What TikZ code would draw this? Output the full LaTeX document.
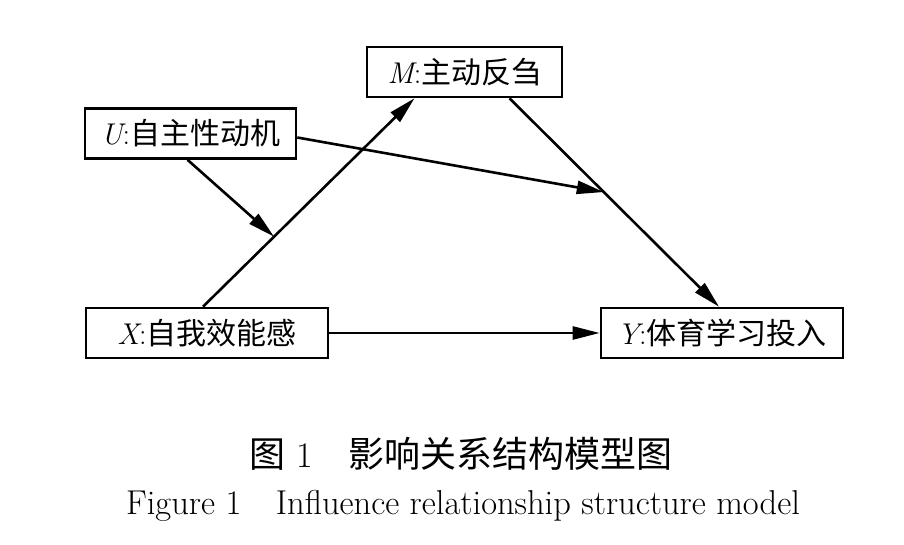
\documentclass[tikz,border=0pt]{standalone}
\usepackage{fontspec}
\newfontfamily\cjk{Noto Sans CJK SC}
\usetikzlibrary{arrows.meta,positioning}

\begin{document}
\begin{tikzpicture}[
  x=1pt, y=-1pt,
  >={Triangle[length=27pt,width=13pt]},
  var/.style={draw, line width=2.6pt, minimum height=50pt, inner sep=0pt,
    font=\fontsize{30}{33}\selectfont},
  link/.style={->, line width=2.6pt},
  capcn/.style={font=\fontsize{36}{40}\selectfont},
  capen/.style={font=\fontsize{34.5}{38}\selectfont},
]
\useasboundingbox (0,0) rectangle (904,545);

% ---------- variables ----------
\node[var, minimum width=211pt] (U) at (190.5,133.5) {{\itshape U}:\cjk 自主性动机};
\node[var, minimum width=195pt] (M) at (464.5,72) {{\itshape M}:\cjk 主动反刍};
\node[var, minimum width=242pt] (X) at (207,333) {{\itshape X}:\cjk 自我效能感};
\node[var, minimum width=242pt] (Y) at (722,333) {{\itshape Y}:\cjk 体育学习投入};

% ---------- paths ----------
\draw[link] ([xshift=-4pt]X.north) -- coordinate[pos=0.336] (xm) ([xshift=-50pt]M.south);
\draw[link] ([xshift=45pt]M.south) -- coordinate[pos=0.45] (my) ([xshift=-3pt]Y.north);
\draw[link] (X.east) -- (Y.west);

% moderation by U
\draw[link] ([xshift=-3pt]U.south) -- (xm);
\draw[link] ([yshift=-4pt]U.east) -- (my);

% ---------- caption ----------
\node[capcn] (capcn) at (461,454) {{\cjk 图}\ 1\quad{\cjk 影响关系结构模型图}};
\node[capen] (capen) at (463,506) {Figure 1\quad Influence relationship structure model};

\end{tikzpicture}
\end{document}
